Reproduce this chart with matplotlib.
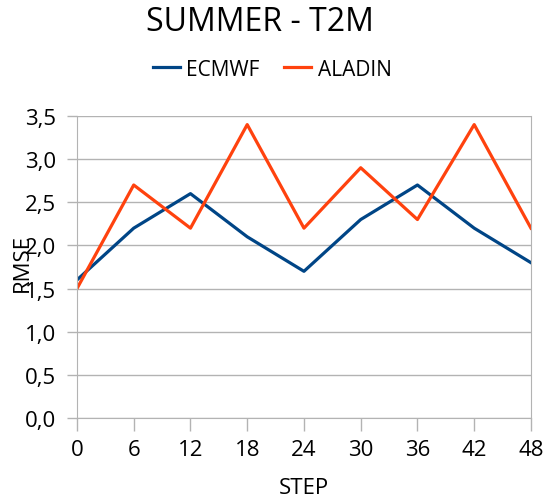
import matplotlib
matplotlib.use("Agg")
import matplotlib.pyplot as plt

plt.rcParams['font.family'] = ['Open Sans', 'DejaVu Sans']

steps = [0, 6, 12, 18, 24, 30, 36, 42, 48]
ecmwf = [1.6, 2.2, 2.6, 2.1, 1.7, 2.3, 2.7, 2.2, 1.8]
aladin = [1.5, 2.7, 2.2, 3.4, 2.2, 2.9, 2.3, 3.4, 2.2]
yticks = [0.0, 0.5, 1.0, 1.5, 2.0, 2.5, 3.0, 3.5]

fig = plt.figure(figsize=(5.44, 5.02), dpi=100)
ax = fig.add_axes([0.1415, 0.1653, 0.8345, 0.6017])

ax.plot(steps, ecmwf, color='#004586', linewidth=2.3, label='ECMWF')
ax.plot(steps, aladin, color='#ff420e', linewidth=2.3, label='ALADIN')

ax.set_xlim(0, 48)
ax.set_ylim(0, 3.5)
ax.set_xticks(steps)
ax.set_yticks(yticks)
ax.set_yticklabels([f"{v:.1f}".replace('.', ',') for v in yticks])
ax.tick_params(axis='both', labelsize=16, color='#b3b3b3')
ax.tick_params(axis='x', length=9, width=1, pad=6)
ax.tick_params(axis='y', length=7, width=1, pad=8)
ax.grid(axis='y', color='#b3b3b3', linewidth=1)
for s in ax.spines.values():
    s.set_color('#b3b3b3')
ax.spines['top'].set_visible(False)
ax.set_axisbelow(True)

ax.set_xlabel('STEP', fontsize=16, labelpad=12)
ax.set_ylabel('RMSE', fontsize=16)
ax.yaxis.set_label_coords(-0.098, 0.517)

fig.text(0.478, 0.955, 'SUMMER - T2M', fontsize=23, ha='center', va='center')
fig.legend(loc='center', bbox_to_anchor=(0.5, 0.86), ncol=2, frameon=False,
           fontsize=15, handlelength=1.3, handletextpad=0.3, columnspacing=1.2)

fig.savefig('out.png', dpi=100)
